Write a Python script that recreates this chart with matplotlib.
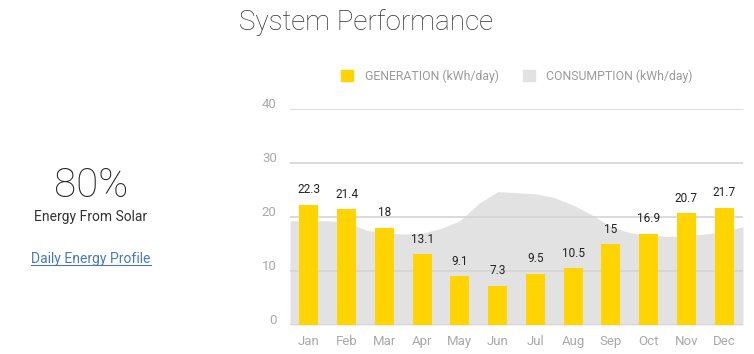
import matplotlib
matplotlib.use("Agg")
import matplotlib.pyplot as plt
from matplotlib.patches import Patch
from matplotlib.lines import Line2D
from matplotlib.transforms import ScaledTranslation

plt.rcParams["font.family"] = ["Roboto", "DejaVu Sans"]

months = ["Jan", "Feb", "Mar", "Apr", "May", "Jun", "Jul", "Aug", "Sep", "Oct", "Nov", "Dec"]
generation = [22.3, 21.4, 18, 13.1, 9.1, 7.3, 9.5, 10.5, 15, 16.9, 20.7, 21.7]

# consumption read every half month, from the left edge to the right edge of the plot
consumption_pos = [i / 2 - 0.5 for i in range(25)]
consumption = [19.3, 19.3, 19.3, 19.0, 17.6, 17.0, 16.85, 17.0, 17.9, 19.3, 22.5, 24.7, 24.5,
               24.3, 23.6, 22.2, 20.4, 18.2, 17.1, 16.6, 16.4, 16.5, 16.85, 17.3, 18.2]

yticks = [0, 10, 20, 30, 40]

BAR = "#ffd400"
AREA = "#e2e2e2"
GRID = "#d4d4d4"
TICK = "#a9a9a9"

fig = plt.figure(figsize=(7.54, 3.54), dpi=100)
ax = fig.add_axes([290 / 754, 29 / 354, 453 / 754, 216 / 354])

ax.fill_between(consumption_pos, consumption, 0, color=AREA, lw=0, zorder=1)
for y in yticks:
    ax.axhline(y, color=GRID, lw=1.2, zorder=2)
x = list(range(len(months)))
ax.bar(x, generation, width=0.5, color=BAR, zorder=3)
for xi, v in zip(x, generation):
    ax.annotate(f"{v:g}", (xi, v), xytext=(0, 6), textcoords="offset points",
                ha="center", va="bottom", fontsize=8.5, color="#222222", zorder=4)

ax.set_xlim(-0.5, 11.5)
ax.set_ylim(0, 40)
ax.set_yticks(yticks)
ax.set_xticks(x)
ax.set_xticklabels(months)
ax.tick_params(axis="both", length=0, labelsize=9.5, labelcolor=TICK)
ax.tick_params(axis="y", pad=9.5)
ax.tick_params(axis="x", pad=7)
for lbl in ax.get_yticklabels():
    lbl.set_transform(lbl.get_transform() + ScaledTranslation(0, 6 / 100, fig.dpi_scale_trans))
for s in ax.spines.values():
    s.set_visible(False)

handles = [Patch(color=BAR, label="GENERATION (kWh/day)"),
           Patch(color=AREA, label="CONSUMPTION (kWh/day)")]
leg = fig.legend(handles=handles, loc="center", bbox_to_anchor=(517 / 754, 1 - 76 / 354),
                 ncol=2, frameon=False, fontsize=8.8, handlelength=0.95, handleheight=0.95,
                 handletextpad=0.95, columnspacing=2.0)
for t in leg.get_texts():
    t.set_color("#9a9a9a")

fig.text(366 / 754, 1 - 22 / 354, "System Performance", ha="center", va="center",
         fontsize=20, color="#333333", fontweight="light")

fig.text(91 / 754, 1 - 186 / 354, "80%", ha="center", va="center",
         fontsize=29, color="#222222", fontweight="light")
fig.text(91 / 754, 1 - 217 / 354, "Energy From Solar", ha="center", va="center",
         fontsize=10, color="#333333")
link = fig.text(91 / 754, 1 - 259 / 354, "Daily Energy Profile", ha="center", va="center",
                fontsize=10, color="#4a78bd")

fig.canvas.draw()
bb = link.get_window_extent().transformed(fig.transFigure.inverted())
fig.add_artist(Line2D([bb.x0, bb.x1], [bb.y0 + 0.004, bb.y0 + 0.004],
                      transform=fig.transFigure, color="#4a78bd", lw=0.8))

fig.savefig("out.png", dpi=100)
